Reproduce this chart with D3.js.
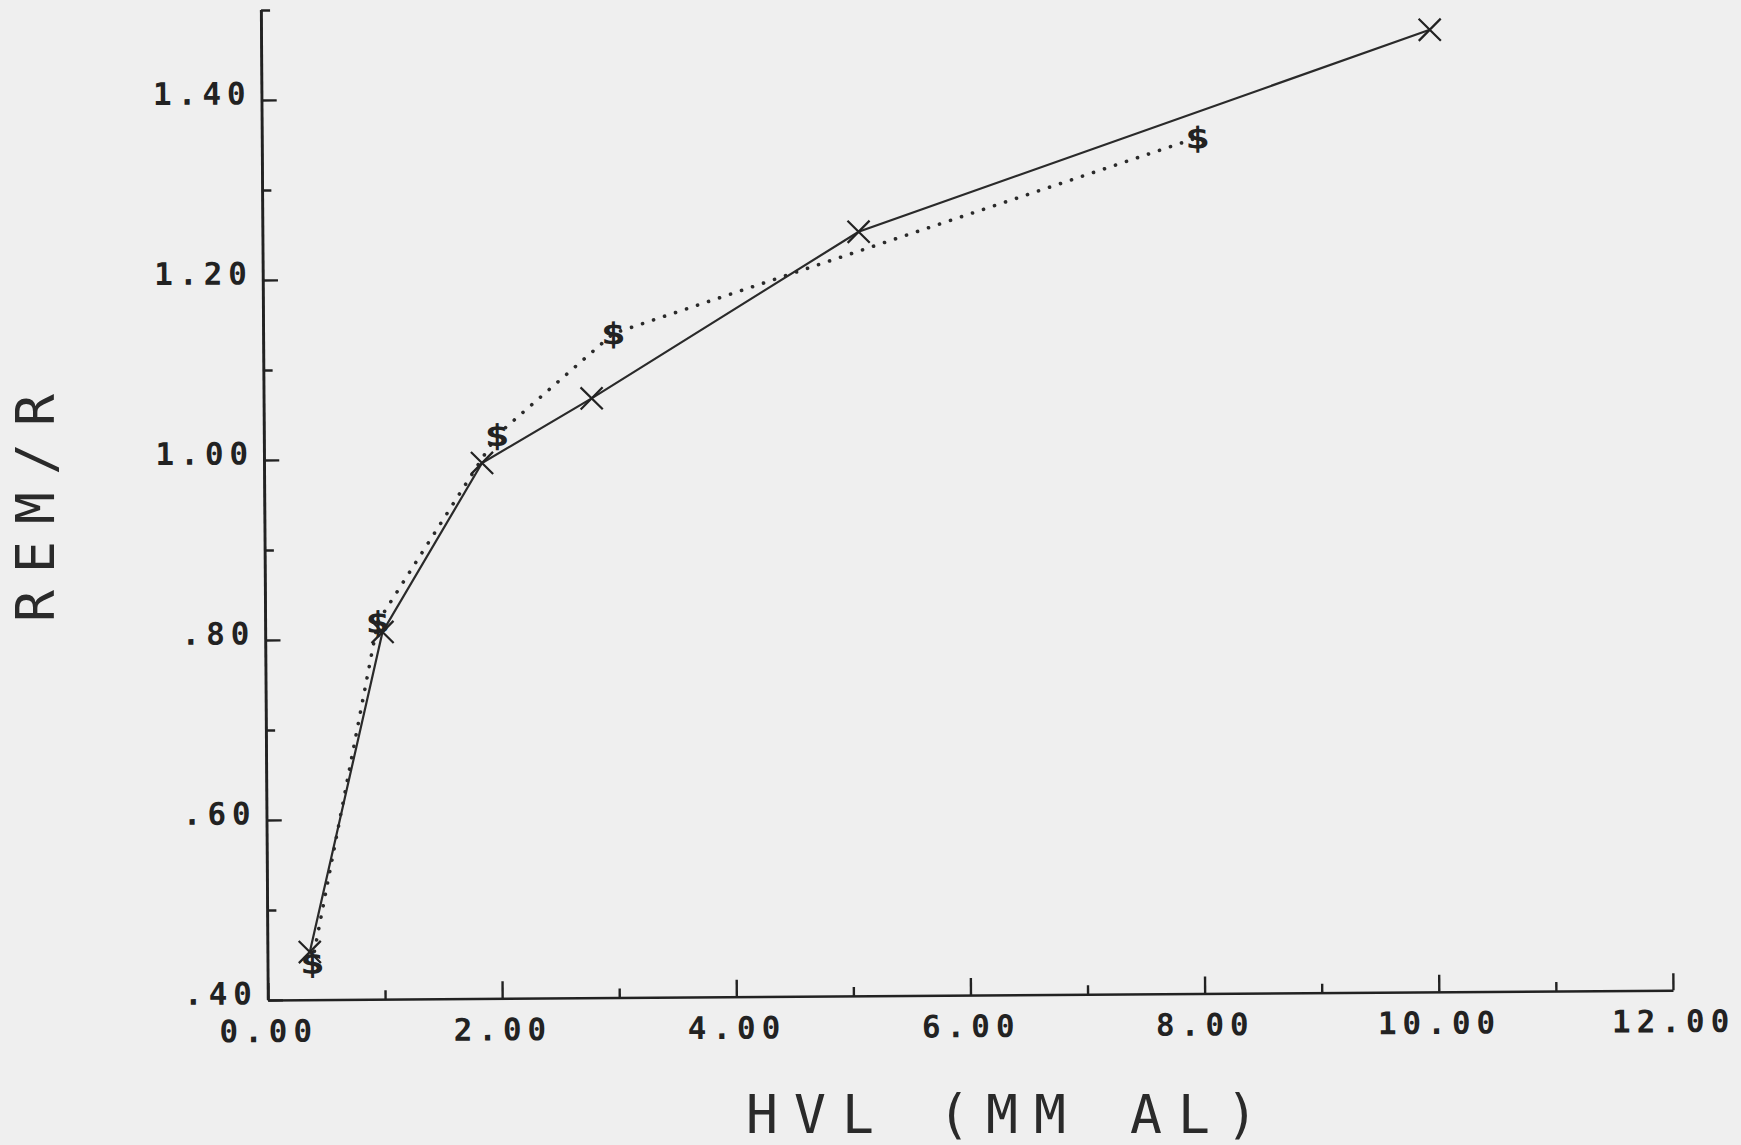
<!DOCTYPE html>
<html>
<meta charset="utf-8">
<title>REM/R vs HVL</title>
<script src="https://d3js.org/d3.v7.min.js" charset="utf-8"></script>
<style>
	body { margin: 0; background: #efefef; }
	svg { display: block; }
	.axis path, .axis line { stroke: #222; stroke-width: 2.4px; }
	.axis text {
		font-family: "DejaVu Sans Mono", monospace;
		font-size: 31px;
		font-weight: bold;
		fill: #222;
		letter-spacing: 6px;
		font-variant-numeric: slashed-zero;
	}
	.title {
		font-family: "DejaVu Sans Mono", monospace;
		font-size: 53px;
		fill: #2a2a2a;
	}
</style>
<body>
<script>

	// HVL (mm Al) vs REM/R
	var hvlCross = [0.36, 1.00, 1.86, 2.80, 5.09, 9.98];
	var remCross = [0.453, 0.808, 0.995, 1.066, 1.249, 1.469];
	var hvlDollar = [0.38, 0.96, 1.99, 2.99, 7.99];
	var remDollar = [0.441, 0.819, 1.026, 1.138, 1.351];

	var xMajor = [0, 2, 4, 6, 8, 10, 12];
	var xMinor = [1, 3, 5, 7, 9, 11];
	var xLabels = ["0.00", "2.00", "4.00", "6.00", "8.00", "10.00", "12.00"];
	var yMajor = [0.4, 0.6, 0.8, 1.0, 1.2, 1.4];
	var yMinor = [0.5, 0.7, 0.9, 1.1, 1.3, 1.5];
	var yLabels = [".40", ".60", ".80", "1.00", "1.20", "1.40"];

	var width = 1741, height = 1145;
	var origin = {x: 268, y: 1000};

	var x = d3.scaleLinear().domain([0, 12]).range([origin.x, 1673]);
	var y = d3.scaleLinear().domain([0.4, 1.5]).range([origin.y, 10]);

	var svg = d3.select("body").append("svg")
		.attr("width", width)
		.attr("height", height);

	svg.append("rect")
		.attr("width", width)
		.attr("height", height)
		.attr("fill", "#efefef");

	// the scanned plot is tilted slightly
	var g = svg.append("g")
		.attr("transform", "rotate(-0.4," + origin.x + "," + origin.y + ")");

	/* x axis */
	g.append("g")
		.attr("class", "axis")
		.attr("transform", "translate(0," + origin.y + ")")
		.call(d3.axisBottom(x).tickValues(xMajor).tickSizeInner(-17).tickSizeOuter(0).tickPadding(20)
			.tickFormat(function(d, i) { return xLabels[i]; }));

	g.append("g")
		.attr("class", "axis")
		.attr("transform", "translate(0," + origin.y + ")")
		.call(d3.axisBottom(x).tickValues(xMinor).tickSizeInner(-9).tickSizeOuter(0).tickFormat(""))
		.select(".domain").remove();

	/* y axis */
	var yAxis = g.append("g")
		.attr("class", "axis")
		.attr("transform", "translate(" + origin.x + ",0)")
		.call(d3.axisLeft(y).tickValues(yMajor).tickSizeInner(-15).tickSizeOuter(0).tickPadding(10)
			.tickFormat(function(d, i) { return yLabels[i]; }));
	yAxis.selectAll("text").attr("dy", "0.12em");

	g.append("g")
		.attr("class", "axis")
		.attr("transform", "translate(" + origin.x + ",0)")
		.call(d3.axisLeft(y).tickValues(yMinor).tickSizeInner(-9).tickSizeOuter(0).tickFormat(""))
		.select(".domain").remove();

	// domain of the y axis only runs to the last tick, extend it to the top cap
	g.append("line")
		.attr("x1", x(0)).attr("x2", x(0))
		.attr("y1", y(0.4)).attr("y2", y(1.5))
		.attr("stroke", "#222").attr("stroke-width", 2.4);

	/* lines */
	var crossPts = hvlCross.map(function(d, i) { return [d, remCross[i]]; });
	var dollarPts = hvlDollar.map(function(d, i) { return [d, remDollar[i]]; });

	var line = d3.line()
		.x(function(d) { return x(d[0]); })
		.y(function(d) { return y(d[1]); });

	g.append("path")
		.datum(crossPts)
		.attr("d", line)
		.attr("fill", "none")
		.attr("stroke", "#2a2a2a")
		.attr("stroke-width", 2.2);

	g.append("path")
		.datum(dollarPts)
		.attr("d", line)
		.attr("fill", "none")
		.attr("stroke", "#2a2a2a")
		.attr("stroke-width", 3.6)
		.attr("stroke-linecap", "round")
		.attr("stroke-dasharray", "0.1 11.5");

	/* markers */
	g.selectAll(".cross")
		.data(crossPts)
		.enter().append("path")
		.attr("class", "cross")
		.attr("transform", function(d) { return "translate(" + x(d[0]) + "," + y(d[1]) + ")"; })
		.attr("d", d3.symbol().type(d3.symbolX).size(320))
		.attr("fill", "none")
		.attr("stroke", "#222")
		.attr("stroke-width", 2.2);

	g.selectAll(".dollar")
		.data(dollarPts)
		.enter().append("text")
		.attr("class", "dollar")
		.attr("transform", function(d) { return "translate(" + x(d[0]) + "," + y(d[1]) + ")scale(1.4,1)"; })
		.attr("text-anchor", "middle")
		.attr("dy", "0.36em")
		.style("font-family", "DejaVu Sans Mono, monospace")
		.style("font-size", "30px")
		.style("font-weight", "bold")
		.style("fill", "#222")
		.text("$");

	/* titles */
	svg.append("text")
		.attr("class", "title")
		.attr("x", 746)
		.attr("y", 1133)
		.attr("textLength", 512)
		.attr("lengthAdjust", "spacing")
		.text("HVL (MM AL)");

	svg.append("text")
		.attr("class", "title")
		.attr("transform", "translate(54,622)rotate(-90)")
		.attr("textLength", 228)
		.attr("lengthAdjust", "spacing")
		.text("REM/R");

</script>
</body>
</html>
